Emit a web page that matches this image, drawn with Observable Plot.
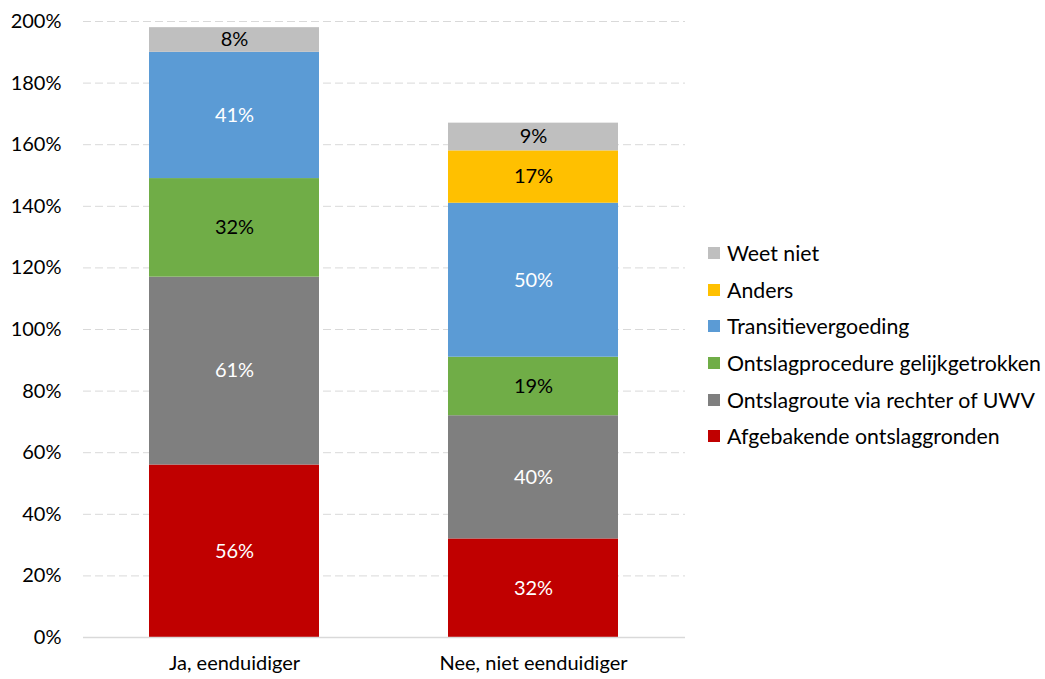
<!DOCTYPE html>
<html>
<head>
<meta charset="utf-8">
<script src="https://cdn.jsdelivr.net/npm/d3@7"></script>
<script src="https://cdn.jsdelivr.net/npm/@observablehq/plot@0.6"></script>
<style>
  body { margin: 0; background: #fff; }
  #wrap { position: relative; width: 1045px; height: 679px; font-family: Lato, "Open Sans", sans-serif; }
  #legend { position: absolute; left: 708px; top: 235px; font-size: 21.3px; color: #000; }
  .row { display: flex; align-items: center; height: 36.6px; }
  .sw { width: 12px; height: 12px; margin-right: 7px; }
</style>
</head>
<body>
<div id="wrap"><div id="legend"></div></div>
<script>
const categories = ["Ja, eenduidiger", "Nee, niet eenduidiger"];
const series = [
  "Afgebakende ontslaggronden",
  "Ontslagroute via rechter of UWV",
  "Ontslagprocedure gelijkgetrokken",
  "Transitievergoeding",
  "Anders",
  "Weet niet"
];
const colors = ["#C00000", "#7F7F7F", "#70AD47", "#5B9BD5", "#FFC000", "#BFBFBF"];
const labelColors = ["#fff", "#fff", "#000", "#fff", "#000", "#000"];

const afgebakend   = [56, 32];
const ontslagroute = [61, 40];
const gelijk       = [32, 19];
const transitie    = [41, 50];
const anders       = [0, 17];
const weetNiet     = [8, 9];
const yTicks = [0, 20, 40, 60, 80, 100, 120, 140, 160, 180, 200];

const seriesValues = [afgebakend, ontslagroute, gelijk, transitie, anders, weetNiet];
const data = [];
categories.forEach((c, ci) => {
  series.forEach((s, si) => {
    data.push({cat: c, series: s, value: seriesValues[si][ci], lc: labelColors[si]});
  });
});

const labelFor = col => d => (d.value > 0 && d.lc === col) ? d.value + "%" : "";

const chart = Plot.plot({
  width: 1045,
  height: 679,
  marginLeft: 83,
  marginRight: 360,
  marginTop: 21,
  marginBottom: 42,
  style: {fontFamily: "Lato, 'Open Sans', sans-serif", fontSize: "20px", color: "#000", background: "transparent"},
  x: {domain: categories, paddingInner: 0.43, paddingOuter: 0.22, label: null, tickSize: 0, tickPadding: 18},
  y: {domain: [0, 200], ticks: yTicks, tickFormat: d => d + "%", label: null, tickSize: 0, tickPadding: 22},
  color: {domain: series, range: colors},
  marks: [
    Plot.ruleY(yTicks.filter(d => d > 0), {stroke: "#d9d9d9", strokeWidth: 1, strokeDasharray: "8,4"}),
    Plot.barY(data, {x: "cat", y: "value", fill: "series", z: "series"}),
    Plot.ruleY([0], {stroke: "#d9d9d9", strokeWidth: 1.5}),
    Plot.text(data, Plot.stackY({
      x: "cat", y: "value", z: "series",
      text: labelFor("#fff"), fill: "#fff", fontSize: 20
    })),
    Plot.text(data, Plot.stackY({
      x: "cat", y: "value", z: "series",
      text: labelFor("#000"), fill: "#000", fontSize: 20
    }))
  ]
});
chart.style.position = "absolute";
chart.style.left = "0px";
chart.style.top = "0px";
document.getElementById("wrap").prepend(chart);

const legend = document.getElementById("legend");
series.slice().reverse().forEach(s => {
  const i = series.indexOf(s);
  const row = document.createElement("div");
  row.className = "row";
  const sw = document.createElement("div");
  sw.className = "sw";
  sw.style.background = colors[i];
  const t = document.createElement("span");
  t.textContent = s;
  row.appendChild(sw);
  row.appendChild(t);
  legend.appendChild(row);
});
</script>
</body>
</html>
